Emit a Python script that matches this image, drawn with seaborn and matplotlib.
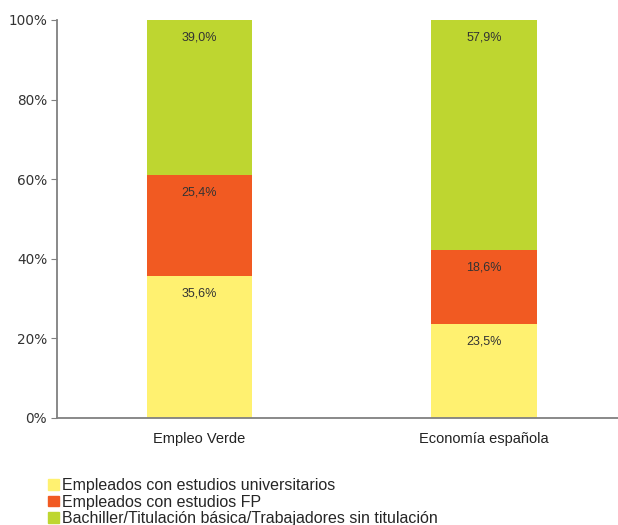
import numpy as np
import pandas as pd
import seaborn as sns
import matplotlib.pyplot as plt
from matplotlib.patches import Patch

categories = ['Empleo Verde', 'Economía española']
universitarios = [35.6, 23.5]
fp = [25.4, 18.6]
bachiller = [39.0, 57.9]
series_names = ['Empleados con estudios universitarios',
                'Empleados con estudios FP',
                'Bachiller/Titulación básica/Trabajadores sin titulación']
colors = ['#FFF170', '#F15A22', '#BED630']

sns.set_style('white')
plt.rcParams['font.family'] = ['Liberation Sans', 'DejaVu Sans']

fig = plt.figure(figsize=(6.18, 5.25), dpi=100)
ax = fig.add_axes([0.092, 0.204, 0.908, 0.758])

df = pd.DataFrame({'cat': categories, 'u': universitarios, 'f': fp, 'b': bachiller})
bottom = np.zeros(len(df))
for col, c in zip(['u', 'f', 'b'], colors):
    sns.barplot(data=df, x='cat', y=col, color=c, bottom=bottom, width=0.37,
                ax=ax, saturation=1, linewidth=0)
    for i, v in enumerate(df[col]):
        top = bottom[i] + v
        ax.text(i, top - 4.3, f'{v:.1f}%'.replace('.', ','), ha='center',
                va='center', fontsize=9, color='#333333')
    bottom = bottom + df[col].values

ax.set_xlim(-0.5, 1.47)
ax.set_ylim(0, 100)
ax.set_yticks([0, 20, 40, 60, 80, 100])
ax.set_yticklabels(['0%', '20%', '40%', '60%', '80%', '100%'], fontsize=9.8,
                   color='#333333', family='DejaVu Sans')
ax.set_xlabel('')
ax.set_ylabel('')
ax.tick_params(axis='x', length=0, pad=10, labelsize=10.5, labelcolor='#222222')
ax.tick_params(axis='y', length=4, direction='out', color='#808080', pad=3, left=True)
sns.despine(ax=ax, top=True, right=True)
for s in ['left', 'bottom']:
    ax.spines[s].set_color('#808080')
    ax.spines[s].set_linewidth(1.3)

handles = [Patch(color=c) for c in colors]
fig.legend(handles, series_names, loc='upper left', bbox_to_anchor=(0.078, 0.089),
           frameon=False, fontsize=11.5, handlelength=0.65, handleheight=0.65,
           handletextpad=0.2, labelspacing=0.08, borderaxespad=0, borderpad=0)

fig.savefig('out.png', dpi=100)
